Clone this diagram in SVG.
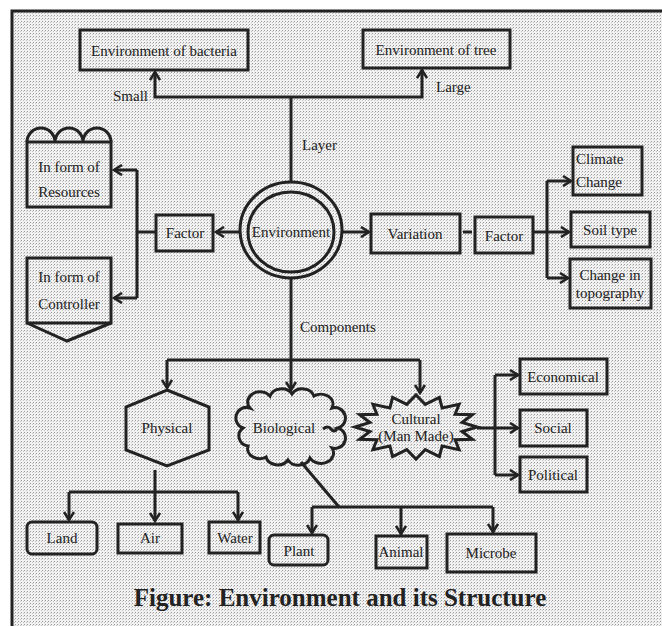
<svg xmlns="http://www.w3.org/2000/svg" width="662" height="626" viewBox="0 0 662 626">
<defs>
<pattern id="ht" x="0" y="0" width="3" height="3" patternUnits="userSpaceOnUse">
<rect width="3" height="3" fill="#f2f2f2"/>
<rect x="0" y="0" width="1" height="1" fill="#9a9a9a"/>
<rect x="2" y="1" width="1" height="1" fill="#c4c4c4"/>
</pattern>
<marker id="ah" viewBox="0 0 12 12" refX="10" refY="6" markerWidth="12" markerHeight="12" markerUnits="userSpaceOnUse" orient="auto">
<path d="M2,1 L10,6 L2,11" fill="none" stroke="#222" stroke-width="2.6"/>
</marker>
</defs>
<style>
.sh{fill:none;stroke:#222;stroke-width:3}
.ln{fill:none;stroke:#222;stroke-width:3}
.ar{fill:none;stroke:#222;stroke-width:3;marker-end:url(#ah)}
text{font-family:"Liberation Serif","Times New Roman",serif;font-size:15px;fill:#222}
.c{text-anchor:middle}
.title{font-size:25px;font-weight:bold;text-anchor:middle}
</style>
<rect width="662" height="626" fill="#fff"/>
<rect x="12" y="11" width="650" height="615" fill="url(#ht)"/>
<path d="M12,626 V11 H662" fill="none" stroke="#222" stroke-width="3"/>

<g id="connectors">
<path class="ln" d="M291,182 V97"/>
<path class="ar" d="M291,97 H155 V72"/>
<path class="ar" d="M291,97 H422 V70"/>
<path class="ar" d="M240,232 H216"/>
<path class="ln" d="M156,232 H137"/>
<path class="ln" d="M137,170 V298"/>
<path class="ar" d="M137,170 H114"/>
<path class="ar" d="M137,298 H114"/>
<path class="ar" d="M342,232 H369"/>
<path class="ln" d="M463,232 H472"/>
<path class="ln" d="M533,232 H547"/>
<path class="ln" d="M547,181 V278"/>
<path class="ar" d="M547,181 H571"/>
<path class="ar" d="M547,232 H569"/>
<path class="ar" d="M547,278 H568"/>
<path class="ln" d="M291,278 V360"/>
<path class="ln" d="M167,360 H420"/>
<path class="ar" d="M167,360 V388"/>
<path class="ar" d="M291,360 V390"/>
<path class="ar" d="M420,360 V393"/>
<path class="ar" d="M155,470 V521"/>
<path class="ln" d="M69,492 H238"/>
<path class="ar" d="M69,492 V520"/>
<path class="ar" d="M238,492 V520"/>
<path class="ln" d="M301,462 L339,507"/>
<path class="ln" d="M312,507 H493"/>
<path class="ar" d="M312,507 V533"/>
<path class="ar" d="M401,507 V534"/>
<path class="ar" d="M493,507 V532"/>
<path class="ln" d="M477,428 H495"/>
<path class="ln" d="M495,375 V475"/>
<path class="ar" d="M495,375 H518"/>
<path class="ar" d="M495,428 H518"/>
<path class="ar" d="M495,475 H518"/>
<path class="ln" d="M323,429 Q328,425 331,429 T337,429" stroke-width="1.5"/>
</g>

<g id="labels">
<text x="148" y="101" text-anchor="end">Small</text>
<text x="436" y="92">Large</text>
<text x="302" y="150">Layer</text>
<text x="300" y="332">Components</text>
</g>

<g id="env-bacteria"><rect class="sh" x="80" y="30" width="168" height="40"/><text class="c" x="164" y="56">Environment of bacteria</text></g>
<g id="env-tree"><rect class="sh" x="363" y="30" width="147" height="38"/><text class="c" x="436" y="55">Environment of tree</text></g>
<g id="environment"><ellipse class="sh" cx="291" cy="230" rx="51" ry="48"/><ellipse class="sh" cx="291" cy="232" rx="43" ry="40"/><text class="c" x="291" y="237">Environment</text></g>
<g id="factor-left"><rect class="sh" x="156" y="215" width="57" height="36"/><text class="c" x="185" y="238">Factor</text></g>
<g id="resources"><path class="sh" d="M27,142 A14,14 0 0 1 55,142 A14,14 0 0 1 83,142 A14,14 0 0 1 111,142"/><rect class="sh" x="27" y="142" width="84" height="65"/><text class="c" x="69" y="172">In form of</text><text class="c" x="69" y="197">Resources</text></g>
<g id="controller"><rect class="sh" x="27" y="258" width="84" height="65"/><path class="sh" d="M27,323 L67,341 L111,323"/><text class="c" x="69" y="282">In form of</text><text class="c" x="69" y="309">Controller</text></g>
<g id="variation"><rect class="sh" x="371" y="214" width="89" height="39"/><text class="c" x="415" y="239">Variation</text></g>
<g id="factor-right"><rect class="sh" x="475" y="217" width="58" height="36"/><text class="c" x="504" y="241">Factor</text></g>
<g id="climate"><rect class="sh" x="573" y="147" width="69" height="48"/><text x="576" y="164">Climate</text><text x="576" y="187">Change</text></g>
<g id="soil"><rect class="sh" x="571" y="212" width="79" height="35"/><text class="c" x="610" y="235">Soil type</text></g>
<g id="topography"><rect class="sh" x="570" y="259" width="81" height="49"/><text class="c" x="610" y="280">Change in</text><text class="c" x="610" y="298">topography</text></g>
<g id="physical"><polygon class="sh" points="167,390 209,407 209,450 167,466 126,450 126,407"/><text class="c" x="167" y="433">Physical</text></g>
<g id="biological"><path class="sh" d="M250,408 A12,10 0 0 1 270,396 A12,10 0 0 1 292,394 A12,10 0 0 1 314,396 A12,10 0 0 1 332,408 A10,10 0 0 1 338,428 A10,10 0 0 1 332,448 A12,10 0 0 1 310,458 A12,10 0 0 1 288,460 A12,10 0 0 1 266,457 A12,10 0 0 1 248,446 A10,10 0 0 1 243,428 A10,10 0 0 1 250,408 Z"/><text class="c" x="284" y="433">Biological</text></g>
<g id="cultural"><polygon class="sh" points="477,427 462.1,431.5 472.4,439.3 455.1,439.8 459.1,449.6 442.1,446.1 439.4,456.6 425.2,449.6 416,459 406.8,449.6 392.6,456.6 389.9,446.1 372.9,449.6 376.9,439.8 359.6,439.3 369.9,431.5 355,427 369.9,422.5 359.6,414.7 376.9,414.2 372.9,404.4 389.9,407.9 392.6,397.4 406.8,404.4 416,395 425.2,404.4 439.4,397.4 442.1,407.9 459.1,404.4 455.1,414.2 472.4,414.7 462.1,422.5"/><text class="c" x="416" y="424">Cultural</text><text class="c" x="416" y="441">(Man Made)</text></g>
<g id="economical"><rect class="sh" x="520" y="359" width="87" height="35"/><text class="c" x="563" y="382">Economical</text></g>
<g id="social"><rect class="sh" x="520" y="410" width="67" height="36"/><text class="c" x="553" y="433">Social</text></g>
<g id="political"><rect class="sh" x="520" y="457" width="67" height="35"/><text class="c" x="553" y="480">Political</text></g>
<g id="land"><rect class="sh" x="27" y="522" width="70" height="32" rx="5"/><text class="c" x="62" y="543">Land</text></g>
<g id="air"><rect class="sh" x="118" y="524" width="64" height="29"/><text class="c" x="150" y="543">Air</text></g>
<g id="water"><rect class="sh" x="209" y="522" width="51" height="31"/><text class="c" x="235" y="543">Water</text></g>
<g id="plant"><rect class="sh" x="269" y="535" width="59" height="30" rx="5"/><text class="c" x="299" y="556">Plant</text></g>
<g id="animal"><rect class="sh" x="376" y="536" width="51" height="32"/><text class="c" x="401" y="557">Animal</text></g>
<g id="microbe"><rect class="sh" x="447" y="534" width="89" height="38"/><text class="c" x="491" y="558">Microbe</text></g>
<text class="title" x="340" y="606">Figure: Environment and its Structure</text>
</svg>
